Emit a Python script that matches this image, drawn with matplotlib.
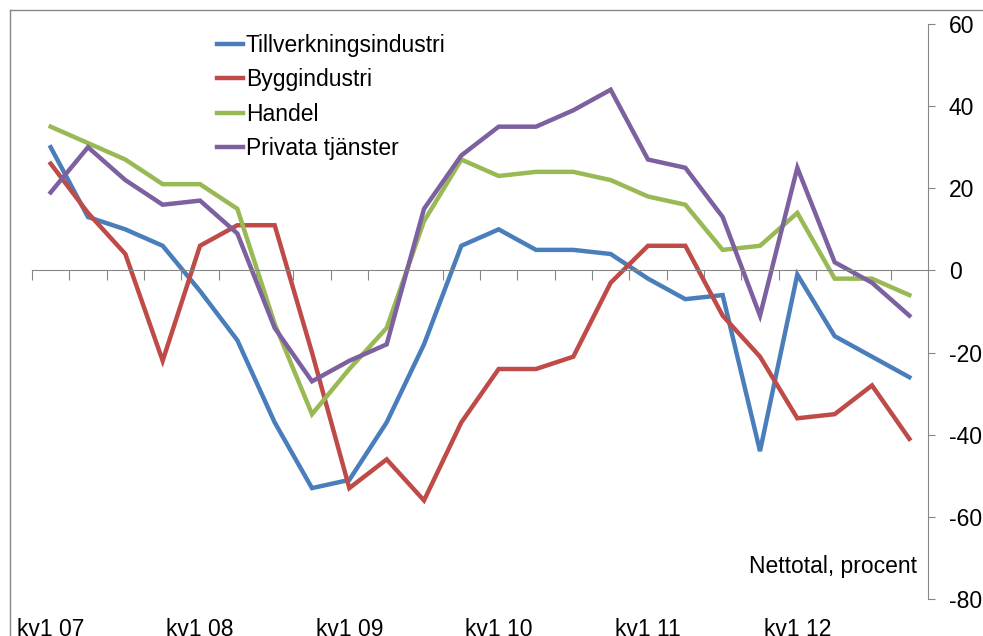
import matplotlib
matplotlib.use("Agg")
import matplotlib.pyplot as plt
from matplotlib.lines import Line2D
import matplotlib.transforms as mtransforms

plt.rcParams['font.family'] = ['Liberation Sans', 'DejaVu Sans']

# kvartal kv1 07 .. kv4 12
quarters = ["kv1 07", "kv2 07", "kv3 07", "kv4 07",
            "kv1 08", "kv2 08", "kv3 08", "kv4 08",
            "kv1 09", "kv2 09", "kv3 09", "kv4 09",
            "kv1 10", "kv2 10", "kv3 10", "kv4 10",
            "kv1 11", "kv2 11", "kv3 11", "kv4 11",
            "kv1 12", "kv2 12", "kv3 12", "kv4 12"]

tillverkning = [30, 13, 10, 6, -5, -17, -37, -53, -51, -37, -18, 6,
                10, 5, 5, 4, -2, -7, -6, -44, -1, -16, -21, -26]
bygg = [26, 14, 4, -22, 6, 11, 11, -20, -53, -46, -56, -37,
        -24, -24, -21, -3, 6, 6, -11, -21, -36, -35, -28, -41]
handel = [35, 31, 27, 21, 21, 15, -13, -35, -24, -14, 12, 27,
          23, 24, 24, 22, 18, 16, 5, 6, 14, -2, -2, -6]
privata = [19, 30, 22, 16, 17, 9, -14, -27, -22, -18, 15, 28,
           35, 35, 39, 44, 27, 25, 13, -11, 25, 2, -3, -11]

series_names = ["Tillverkningsindustri", "Byggindustri", "Handel", "Privata tjänster"]
colors = ["#4A7EBB", "#BE4B48", "#98B954", "#7D60A0"]
yticks = [60, 40, 20, 0, -20, -40, -60, -80]

W, H = 983, 636
fs = 16.5
fig = plt.figure(figsize=(W / 100, H / 100), dpi=100)
ax = fig.add_axes([32 / W, 1 - 599 / H, (928 - 32) / W, (599 - 24) / H])

grey = "#868686"
x = list(range(len(quarters)))
all_series = [tillverkning, bygg, handel, privata]
for vals, name, c in zip(all_series, series_names, colors):
    ax.plot(x, vals, color=c, lw=3.2, label=name, solid_joinstyle='miter')

ax.set_xlim(-0.5, len(quarters) - 0.5)
ax.set_ylim(-80, 60)

# y axis on the right
ax.yaxis.tick_right()
ax.set_yticks(yticks)
ax.set_yticklabels([str(v) for v in yticks], fontsize=fs)
ax.tick_params(axis='y', direction='out', length=5, color=grey, pad=10)

ax.spines['left'].set_visible(False)
ax.spines['top'].set_visible(False)
ax.spines['right'].set_color(grey)
ax.spines['bottom'].set_position(('data', 0))
ax.spines['bottom'].set_color(grey)

# category boundary ticks on the zero line
ax.set_xticks([i - 0.5 for i in range(len(quarters))])
ax.set_xticklabels([])
ax.tick_params(axis='x', direction='out', length=7, color=grey)

# year labels at the bottom
trans = mtransforms.blended_transform_factory(ax.transData, ax.transAxes)
for i, q in enumerate(quarters):
    if q.startswith("kv1"):
        ax.text(i, -0.033, q, transform=trans, ha='center', va='top', fontsize=fs)

ax.text(0.988, 0.056, "Nettotal, procent", transform=ax.transAxes,
        ha='right', va='center', fontsize=fs)

leg = ax.legend(loc='upper left', bbox_to_anchor=(217 / W, 1 - 34 / H),
                bbox_transform=fig.transFigure, frameon=False, fontsize=fs,
                handlelength=1.15, handletextpad=0.1, labelspacing=0.5,
                borderpad=0, borderaxespad=0)

# outer chart frame (left and top edges visible)
fig.add_artist(Line2D([10 / W, 10 / W], [1 - 10 / H, 0], color=grey, lw=1))
fig.add_artist(Line2D([10 / W, 1], [1 - 10 / H, 1 - 10 / H], color=grey, lw=1))

fig.savefig("out.png", dpi=100)
